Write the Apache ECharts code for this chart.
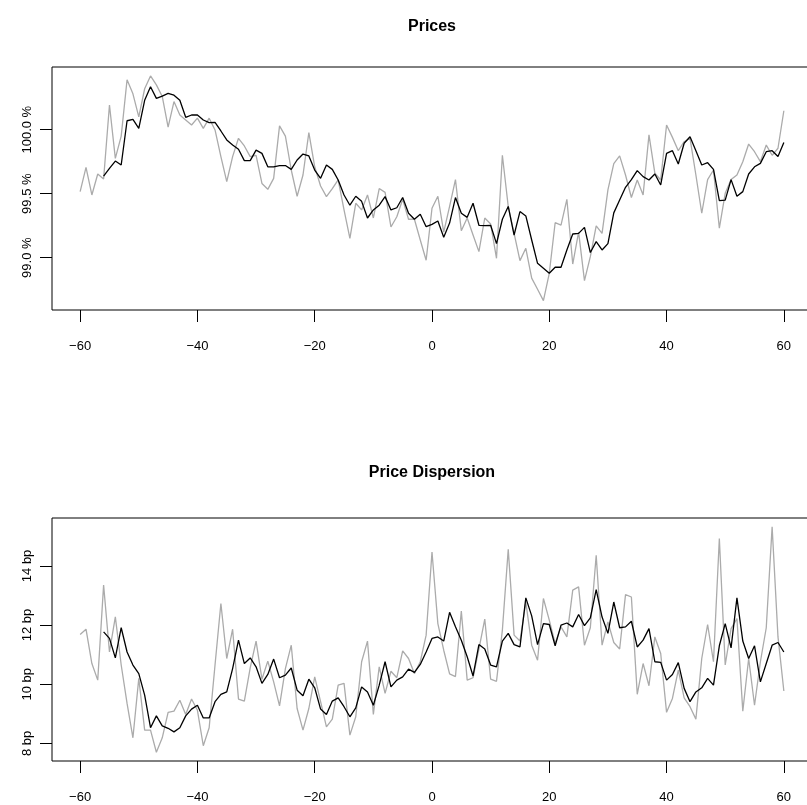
<!DOCTYPE html>
<html>
<head>
<meta charset="utf-8">
<script src="https://cdn.jsdelivr.net/npm/echarts@6/dist/echarts.min.js"></script>
<style>html,body{margin:0;padding:0;background:#fff;}#c{width:807px;height:805px;}</style>
</head>
<body>
<div id="c"></div>
<script>
// ---- data ----
const days = [-60,-59,-58,-57,-56,-55,-54,-53,-52,-51,-50,-49,-48,-47,-46,-45,-44,-43,-42,-41,-40,-39,-38,-37,-36,-35,-34,-33,-32,-31,-30,-29,-28,-27,-26,-25,-24,-23,-22,-21,-20,-19,-18,-17,-16,-15,-14,-13,-12,-11,-10,-9,-8,-7,-6,-5,-4,-3,-2,-1,0,1,2,3,4,5,6,7,8,9,10,11,12,13,14,15,16,17,18,19,20,21,22,23,24,25,26,27,28,29,30,31,32,33,34,35,36,37,38,39,40,41,42,43,44,45,46,47,48,49,50,51,52,53,54,55,56,57,58,59,60];
const smoothStartDay = -56;

const priceRaw = [99.516,99.706,99.49,99.654,99.615,100.193,99.776,99.95,100.39,100.28,100.10,100.32,100.42,100.35,100.26,100.02,100.22,100.115,100.076,100.037,100.09,100.01,100.09,99.998,99.79,99.594,99.79,99.933,99.873,99.79,99.80,99.58,99.534,99.62,100.03,99.95,99.685,99.48,99.646,99.977,99.71,99.56,99.477,99.54,99.607,99.373,99.15,99.425,99.373,99.49,99.31,99.54,99.51,99.24,99.32,99.456,99.30,99.30,99.138,98.98,99.386,99.48,99.20,99.40,99.61,99.21,99.31,99.177,99.047,99.31,99.263,98.995,99.80,99.40,99.19,98.977,99.073,98.84,98.753,98.664,98.878,99.273,99.255,99.456,98.95,99.20,98.82,99.008,99.248,99.19,99.53,99.735,99.795,99.646,99.47,99.607,99.49,99.96,99.66,99.607,100.037,99.94,99.836,99.906,99.933,99.646,99.347,99.61,99.685,99.23,99.503,99.61,99.646,99.75,99.888,99.828,99.75,99.88,99.80,99.855,100.148];

const priceSmooth = [99.638,99.698,99.755,99.724,100.07,100.08,100.01,100.23,100.336,100.245,100.263,100.284,100.27,100.23,100.097,100.115,100.115,100.076,100.055,100.057,99.99,99.92,99.88,99.847,99.758,99.758,99.84,99.815,99.71,99.71,99.72,99.72,99.69,99.763,99.81,99.795,99.685,99.62,99.724,99.69,99.607,99.49,99.41,99.48,99.44,99.31,99.373,99.41,99.477,99.373,99.39,99.47,99.347,99.30,99.34,99.242,99.26,99.287,99.16,99.27,99.47,99.347,99.315,99.425,99.253,99.25,99.253,99.11,99.30,99.40,99.177,99.36,99.326,99.138,98.956,98.917,98.878,98.925,98.925,99.06,99.185,99.19,99.237,99.04,99.125,99.06,99.11,99.35,99.45,99.55,99.61,99.68,99.633,99.607,99.654,99.568,99.815,99.836,99.732,99.894,99.945,99.836,99.724,99.742,99.69,99.445,99.45,99.61,99.48,99.516,99.654,99.71,99.737,99.828,99.836,99.79,99.90];

const dispRaw = [11.68,11.86,10.70,10.14,13.35,11.09,12.28,10.65,9.35,8.19,10.20,8.45,8.45,7.70,8.19,9.05,9.09,9.46,8.98,9.50,9.12,7.92,8.53,10.65,12.73,10.87,11.86,9.50,9.43,10.55,11.46,10.17,10.78,10.08,9.27,10.53,11.32,9.18,8.45,9.18,10.25,9.41,8.56,8.82,9.97,10.03,8.28,8.90,10.76,11.46,8.98,10.59,9.69,10.44,10.22,11.13,10.87,10.36,10.76,11.66,14.47,12.05,11.15,10.35,10.26,12.47,10.14,10.22,11.19,12.20,10.17,10.10,11.83,14.56,11.66,11.46,12.78,11.32,10.81,12.90,12.17,11.38,11.94,11.60,13.18,13.29,11.32,11.91,14.36,11.32,12.11,11.41,11.19,13.03,12.95,9.66,10.70,9.95,11.60,11.04,9.05,9.52,10.48,9.54,9.24,8.82,10.87,12.02,10.76,14.93,10.65,11.88,12.22,9.09,10.87,9.29,10.76,11.91,15.32,11.60,9.77];

const dispSmooth = [11.77,11.55,10.89,11.91,11.09,10.65,10.36,9.63,8.53,8.93,8.59,8.51,8.39,8.53,8.93,9.16,9.29,8.86,8.86,9.41,9.66,9.74,10.53,11.49,10.70,10.89,10.59,10.03,10.33,10.85,10.22,10.31,10.55,9.80,9.61,10.17,9.88,9.16,8.98,9.43,9.54,9.24,8.90,9.20,9.91,9.74,9.29,9.97,10.76,9.91,10.14,10.25,10.51,10.40,10.67,11.09,11.55,11.60,11.46,12.43,11.94,11.49,10.93,10.28,11.34,11.19,10.65,10.59,11.46,11.72,11.34,11.26,12.92,12.31,11.34,12.05,12.02,11.30,12.00,12.07,11.94,12.36,11.98,12.24,13.20,12.27,11.72,12.78,11.91,11.94,12.13,11.26,11.49,11.88,10.76,10.74,10.14,10.33,10.73,9.86,9.41,9.74,9.88,10.20,9.97,11.30,12.05,11.23,12.92,11.46,10.87,11.30,10.08,10.70,11.32,11.41,11.09];

const xTicks = [-60,-40,-20,0,20,40,60];
const priceTicks = [99.0,99.5,100.0];
const dispTicks = [8,10,12,14];
const titles = ['Prices','Price Dispersion'];

// ---- build ----
const smoothDays = days.slice(days.indexOf(smoothStartDay));
const pairs = (xs, ys) => ys.map((y, i) => [xs[i], y]);

const FONT = 'Liberation Sans, Arial, Helvetica, sans-serif';
const GRAY = '#ababab';

function xAxisCfg(gi) {
  return {
    type: 'value', gridIndex: gi, min: -64.8, max: 64.8, position: 'bottom',
    axisLine: {show: false, onZero: false},
    splitLine: {show: false},
    axisTick: {show: true, customValues: xTicks, length: 12, lineStyle: {color: '#000', width: 1}},
    axisLabel: {customValues: xTicks, margin: 30, color: '#000', fontSize: 13, fontFamily: FONT,
      formatter: v => String(v).replace('-', '\u2212')}
  };
}
function yAxisCfg(gi, min, max, ticks, fmt) {
  return {
    type: 'value', gridIndex: gi, min: min, max: max, position: 'left',
    axisLine: {show: false, onZero: false},
    splitLine: {show: false},
    axisTick: {show: true, customValues: ticks, length: 12, lineStyle: {color: '#000', width: 1}},
    axisLabel: {customValues: ticks, rotate: 90, margin: 18, color: '#000', fontSize: 13, fontFamily: FONT,
      formatter: fmt}
  };
}

const chart = echarts.init(document.getElementById('c'), null, {renderer: 'canvas'});
chart.setOption({
  animation: false,
  backgroundColor: '#fff',
  grid: [
    {left: 52, top: 67, width: 760, height: 243, show: true, borderColor: '#000', borderWidth: 1, backgroundColor: 'transparent', outerBoundsMode: 'none'},
    {left: 52, top: 518, width: 760, height: 243, show: true, borderColor: '#000', borderWidth: 1, backgroundColor: 'transparent', outerBoundsMode: 'none'}
  ],
  xAxis: [xAxisCfg(0), xAxisCfg(1)],
  yAxis: [
    yAxisCfg(0, 98.591, 100.490, priceTicks, v => v.toFixed(1) + ' %'),
    yAxisCfg(1, 7.405, 15.62, dispTicks, v => v + ' bp')
  ],
  graphic: [
    {type: 'text', x: 432, y: 27, style: {text: titles[0], fill: '#000', font: 'bold 16px ' + FONT, textAlign: 'center', textVerticalAlign: 'middle'}},
    {type: 'text', x: 432, y: 473, style: {text: titles[1], fill: '#000', font: 'bold 16px ' + FONT, textAlign: 'center', textVerticalAlign: 'middle'}}
  ],
  series: [
    {type: 'line', xAxisIndex: 0, yAxisIndex: 0, data: pairs(days, priceRaw), showSymbol: false, lineStyle: {color: GRAY, width: 1.3}, z: 2},
    {type: 'line', xAxisIndex: 0, yAxisIndex: 0, data: pairs(smoothDays, priceSmooth), showSymbol: false, lineStyle: {color: '#000', width: 1.3}, z: 3},
    {type: 'line', xAxisIndex: 1, yAxisIndex: 1, data: pairs(days, dispRaw), showSymbol: false, lineStyle: {color: GRAY, width: 1.3}, z: 2},
    {type: 'line', xAxisIndex: 1, yAxisIndex: 1, data: pairs(smoothDays, dispSmooth), showSymbol: false, lineStyle: {color: '#000', width: 1.3}, z: 3}
  ]
});
</script>
</body>
</html>
